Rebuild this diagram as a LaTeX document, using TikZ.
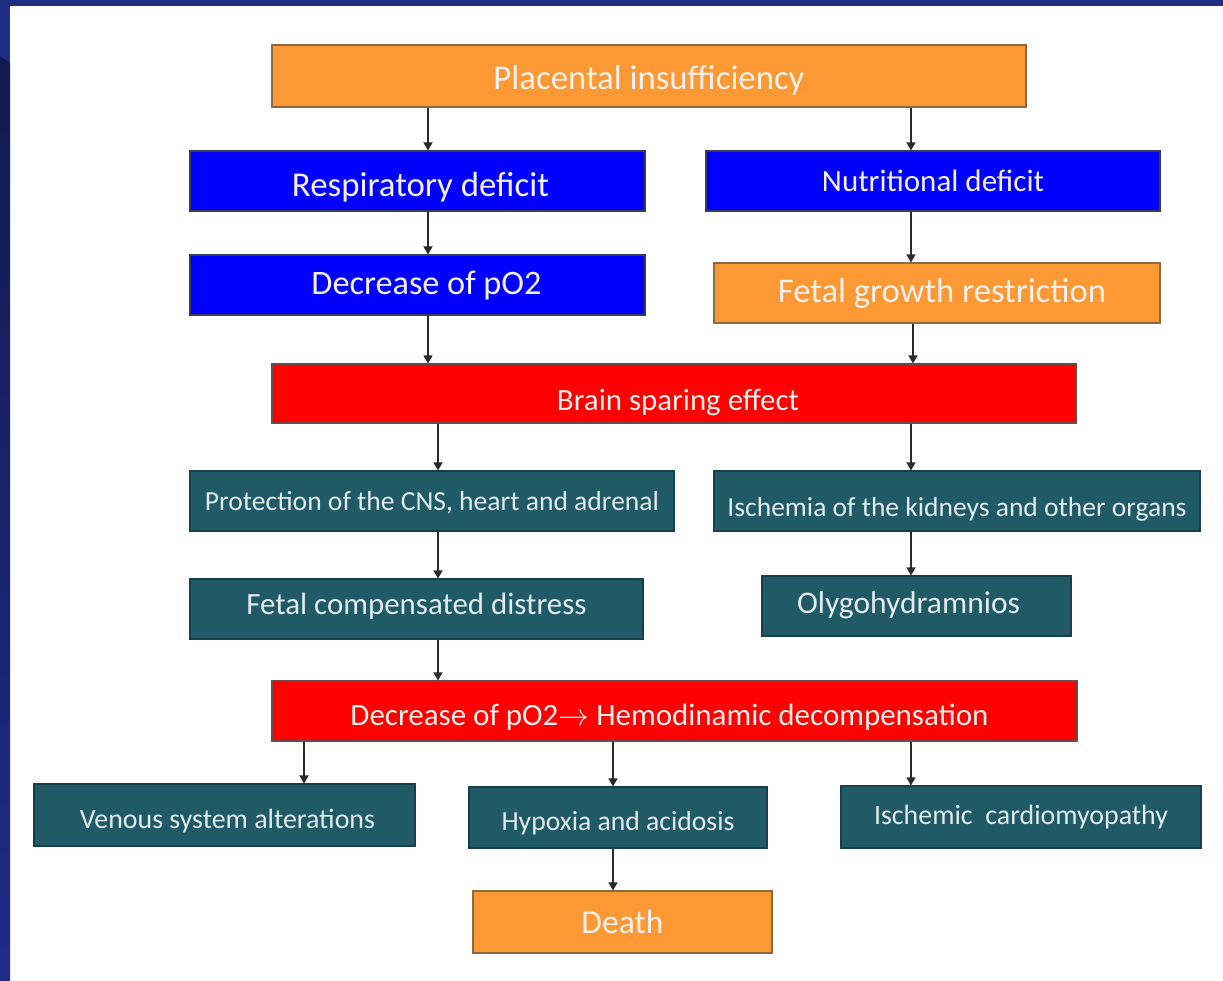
\documentclass[tikz,border=0pt]{standalone}
\usepackage{fontspec}
\setmainfont{Carlito}
\usetikzlibrary{arrows.meta}
\definecolor{bgblue}{HTML}{1F2C86}
\definecolor{bgdark}{HTML}{121A4E}
\definecolor{orfill}{HTML}{FD9935}
\definecolor{ordraw}{HTML}{8A6A45}
\definecolor{blfill}{HTML}{0000FF}
\definecolor{bldraw}{HTML}{3A3A5A}
\definecolor{rdfill}{HTML}{FF0000}
\definecolor{rddraw}{HTML}{6A4A4A}
\definecolor{tlfill}{HTML}{215A67}
\definecolor{tldraw}{HTML}{16404A}
\definecolor{txtlight}{HTML}{F4F1EC}
\definecolor{txtteal}{HTML}{E2ECEE}
\definecolor{arrcol}{HTML}{2A2A2A}
% \fitw[dx]{dy}{width}{text}: text scaled to width, ink moved right by dx and down by dy
\newcommand{\fitw}[4][0]{\kern#1pt\kern#1pt\raisebox{-#2pt}[\height][\depth]{\resizebox{#3pt}{!}{#4}}}
\tikzset{
  boxbase/.style={draw, line width=1.1pt, inner sep=0pt, anchor=center},
  obox/.style={boxbase, fill=orfill, draw=ordraw, text=txtlight},
  bbox/.style={boxbase, fill=blfill, draw=bldraw, text=txtlight},
  rbox/.style={boxbase, fill=rdfill, draw=rddraw, text=txtlight},
  tbox/.style={boxbase, fill=tlfill, draw=tldraw, text=txtteal},
  arr/.style={draw=arrcol, line width=1.4pt, -{Triangle[width=9pt,length=8pt]}}
}
\begin{document}
\begin{tikzpicture}[x=1pt,y=-1pt]
\useasboundingbox (0,0) rectangle (1223,981);
% background frame
\fill[white] (0,0) rectangle (1223,981);
\fill[bgblue] (0,0) rectangle (1223,6);
\fill[bgblue] (0,0) rectangle (10,981);
\shade[top color=bgdark, bottom color=bgblue] (0,56) -- (10,63) -- (10,981) -- (0,981) -- cycle;
% column coordinates
\coordinate (cA) at (428,0);
\coordinate (cB) at (911,0);
\coordinate (cC) at (913,0);
\coordinate (cD) at (438,0);
\coordinate (cE) at (304,0);
\coordinate (cF) at (613,0);
% nodes
\node[obox, minimum width=754pt, minimum height=62pt] (pi) at (649,76) {\fitw{4}{311}{Placental insufficiency}};
\node[bbox, minimum width=455pt, minimum height=60pt] (rd) at (417.5,181) {\fitw[3]{6}{257}{Respiratory deficit}};
\node[bbox, minimum width=454pt, minimum height=60pt] (nd) at (933,181) {\fitw{0}{222}{Nutritional deficit}};
\node[bbox, minimum width=455pt, minimum height=60pt] (dp) at (417.5,285) {\fitw[9]{1}{230}{Decrease of pO2}};
\node[obox, minimum width=446pt, minimum height=60pt] (fg) at (937,293) {\fitw[5]{0}{328}{Fetal growth restriction}};
\node[rbox, minimum width=804pt, minimum height=59pt] (bs) at (674,393.5) {\fitw[4]{9}{242}{Brain sparing effect}};
\node[tbox, minimum width=484pt, minimum height=60pt] (pc) at (432,501) {\fitw{2}{454}{Protection of the CNS, heart and adrenal}};
\node[tbox, minimum width=486pt, minimum height=60pt] (ik) at (957,501) {\fitw{8}{459}{Ischemia of the kidneys and other organs}};
\node[tbox, minimum width=453pt, minimum height=60pt] (fc) at (416.5,609) {\fitw{-3}{340}{Fetal compensated distress}};
\node[tbox, minimum width=309pt, minimum height=60pt] (ol) at (916.5,606) {\fitw[-8]{-1}{223}{Olygohydramnios}};
\node[rbox, minimum width=805pt, minimum height=60pt] (dh) at (674.5,711) {\fitw[-5]{6}{638}{Decrease of pO2$\rightarrow$ Hemodinamic decompensation}};
\node[tbox, minimum width=381pt, minimum height=62pt] (vs) at (224.5,815) {\fitw[3]{6}{295}{Venous system alterations}};
\node[tbox, minimum width=298pt, minimum height=61pt] (ha) at (618,817.5) {\fitw{6}{233}{Hypoxia and acidosis}};
\node[tbox, minimum width=360pt, minimum height=62pt] (ic) at (1021,817) {\fitw{0}{294}{Ischemic\ \ cardiomyopathy}};
\node[obox, minimum width=299pt, minimum height=62pt] (de) at (622.5,922) {\fitw{0}{82}{Death}};
% connectors
\draw[arr] (pi.south -| cA) -- (rd.north -| cA);
\draw[arr] (pi.south -| cB) -- (nd.north -| cB);
\draw[arr] (rd.south -| cA) -- (dp.north -| cA);
\draw[arr] (nd.south -| cB) -- (fg.north -| cB);
\draw[arr] (dp.south -| cA) -- (bs.north -| cA);
\draw[arr] (fg.south -| cC) -- (bs.north -| cC);
\draw[arr] (bs.south -| cD) -- (pc.north -| cD);
\draw[arr] (bs.south -| cB) -- (ik.north -| cB);
\draw[arr] (pc.south -| cD) -- (fc.north -| cD);
\draw[arr] (ik.south -| cB) -- (ol.north -| cB);
\draw[arr] (fc.south -| cD) -- (dh.north -| cD);
\draw[arr] (dh.south -| cE) -- (vs.north -| cE);
\draw[arr] (dh.south -| cF) -- (ha.north -| cF);
\draw[arr] (dh.south -| cB) -- (ic.north -| cB);
\draw[arr] (ha.south -| cF) -- (de.north -| cF);
\end{tikzpicture}
\end{document}
